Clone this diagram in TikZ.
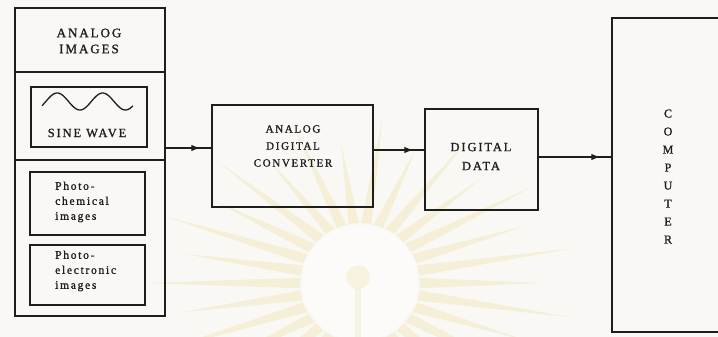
\documentclass[tikz,border=0pt]{standalone}
\usepackage{fontspec}
\setmainfont{Liberation Serif}
\newfontfamily\spaced[LetterSpace=15,FakeBold=1.2]{Liberation Serif}
\usetikzlibrary{arrows.meta,decorations.markings,calc}
\definecolor{paper}{RGB}{249,248,245}
\definecolor{ink}{RGB}{30,30,30}
\definecolor{raycol}{RGB}{240,226,170}

\begin{document}
\begin{tikzpicture}[x=1pt,y=-1pt,
  box/.style={draw=ink, line width=1.4pt, rectangle, inner sep=0pt},
  caps/.style n args={2}{text=ink, align=center, inner sep=0pt,
    font=\spaced\fontsize{#1}{#2}\selectfont},
  small/.style={text=ink, align=left, inner sep=0pt, anchor=west,
    font=\spaced\fontsize{11.5}{15}\selectfont},
  link/.style={draw=ink, line width=1.3pt, postaction={decorate},
    decoration={markings,
      mark=at position -11pt with {\arrow{Latex[length=9pt,width=6.5pt]}}}},
]
\useasboundingbox (0,0) rectangle (718,337);
\fill[paper] (0,0) rectangle (718,337);

% pale sunburst in the background
\begin{scope}
  \clip (0,0) rectangle (718,337);
  \foreach \a [count=\i] in {0,12,...,348} {
    \pgfmathsetmacro{\rx}{ifthenelse(mod(\i,2)==0,215,180)}
    \pgfmathsetmacro{\ry}{ifthenelse(mod(\i,2)==0,165,140)}
    \fill[raycol, opacity=0.4]
      ({360+60*cos(\a-5)}, {283+60*sin(\a-5)}) --
      ({360+\rx*cos(\a)}, {283+\ry*sin(\a)}) --
      ({360+60*cos(\a+5)}, {283+60*sin(\a+5)}) -- cycle;
  }
  \fill[white, opacity=0.5] (360,283) circle (58);
  \fill[raycol, opacity=0.3] (358,277) circle (12);
  \fill[raycol, opacity=0.25] (355,288) rectangle (361,337);
\end{scope}

% source column
\node[box, minimum width=150, minimum height=308] (src) at (90,162) {};
\coordinate (cut1) at (0,72);
\coordinate (cut2) at (0,160);
\draw[ink, line width=1.4pt] (src.west |- cut1) -- (src.east |- cut1);
\draw[ink, line width=1.4pt] (src.west |- cut2) -- (src.east |- cut2);
\node[caps={13}{16}] (hdr) at (89,41) {ANALOG\\IMAGES};

\node[box, minimum width=116, minimum height=60] (sine) at (89,117) {};
\draw[ink, line width=1.3pt]
  plot[domain=0:2, samples=80] ({42+\x*45.5}, {101.5-8.5*sin(\x*360-30)});
\node[caps={12.5}{16}] (sinelbl) at (87,133) {SINE WAVE};

\node[box, minimum width=115, minimum height=63] (pchem) at (87.5,203.5) {};
\node[small] (pchemlbl) at (55,202) {Photo-\\chemical\\images};

\node[box, minimum width=115, minimum height=60] (pelec) at (87.5,275) {};
\node[small] (pelecLbl) at (55,271) {Photo-\\electronic\\images};

% converter, data and computer
\node[box, minimum width=161, minimum height=102] (adc) at (292.5,156) {};
\node[caps={11}{17}] (adclbl) at (293,146) {ANALOG\\DIGITAL\\CONVERTER};

\node[box, minimum width=113, minimum height=101] (dd) at (481.5,159.5) {};
\node[caps={12.5}{19}] (ddlbl) at (481,156.5) {DIGITAL\\DATA};

\node[box, minimum width=140, minimum height=314] (comp) at (682,175) {};
\node[caps={12}{18}] (complbl) at (668,176.5) {C\\O\\M\\P\\U\\T\\E\\R};

% connectors
\draw[link] ([yshift=14pt]src.east) -- ([yshift=14pt]src.east -| adc.west);
\draw[link] ([yshift=6pt]adc.east) -- ([yshift=6pt]adc.east -| dd.west);
\draw[link] ([yshift=2.5pt]dd.east) -- ([yshift=2.5pt]dd.east -| comp.west);
\end{tikzpicture}
\end{document}
